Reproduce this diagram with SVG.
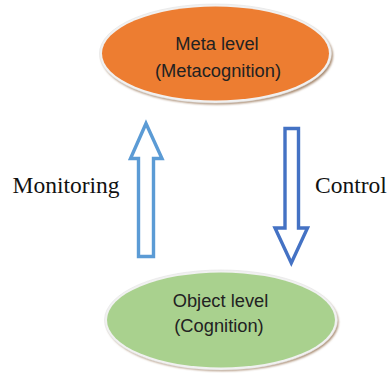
<svg xmlns="http://www.w3.org/2000/svg" width="390" height="376" viewBox="0 0 390 376">
  <defs>
    <filter id="soft" x="-10%" y="-10%" width="120%" height="130%">
      <feGaussianBlur stdDeviation="0.8"/>
    </filter>
  </defs>
  <style>
    .shadow { fill: #a88a70; filter: url(#soft); }
    .rim { fill: #f1f1f1; stroke: #e2e2e2; stroke-width: 0.6; }
    .meta { fill: #ed7d31; }
    .object { fill: #a9d18e; }
    .label { font-family: "Liberation Sans", Arial, sans-serif; font-size: 18.3px; fill: #222222; text-anchor: middle; }
    .side { font-family: "Liberation Serif", "Times New Roman", serif; font-size: 23.5px; fill: #111111; }
    .up { fill: #ffffff; stroke: #5b9bd5; stroke-width: 3.4; stroke-linejoin: miter; }
    .down { fill: #ffffff; stroke: #4472c4; stroke-width: 3.4; stroke-linejoin: miter; }
  </style>

  <rect width="390" height="376" fill="#ffffff"/>

  <g id="meta-level">
    <ellipse class="shadow" cx="217" cy="55.5" rx="116" ry="49"/>
    <ellipse class="rim" cx="215.5" cy="53.5" rx="116" ry="49.5"/>
    <ellipse class="meta" cx="215.5" cy="53.5" rx="113.5" ry="47"/>
    <text class="label" x="217" y="50">Meta level</text>
    <text class="label" x="218" y="77">(Metacognition)</text>
  </g>

  <g id="object-level">
    <ellipse class="shadow" cx="222.5" cy="322" rx="116" ry="49"/>
    <ellipse class="rim" cx="221" cy="320" rx="116.5" ry="50"/>
    <ellipse class="object" cx="221" cy="320" rx="114" ry="47.5"/>
    <text class="label" x="220.5" y="306.5">Object level</text>
    <text class="label" x="219" y="331.5">(Cognition)</text>
  </g>

  <g id="connectors">
    <polygon id="monitoring-arrow" class="up" points="146,123.5 162,158.5 153.5,158.5 153.5,256.5 138.5,256.5 138.5,158.5 130.5,158.5"/>
    <polygon id="control-arrow" class="down" points="285,128.5 298.5,128.5 298.5,228 307.5,228 291.3,263 275,228 285,228"/>
  </g>

  <text class="side" x="12.5" y="193">Monitoring</text>
  <text class="side" x="315" y="193">Control</text>
</svg>
